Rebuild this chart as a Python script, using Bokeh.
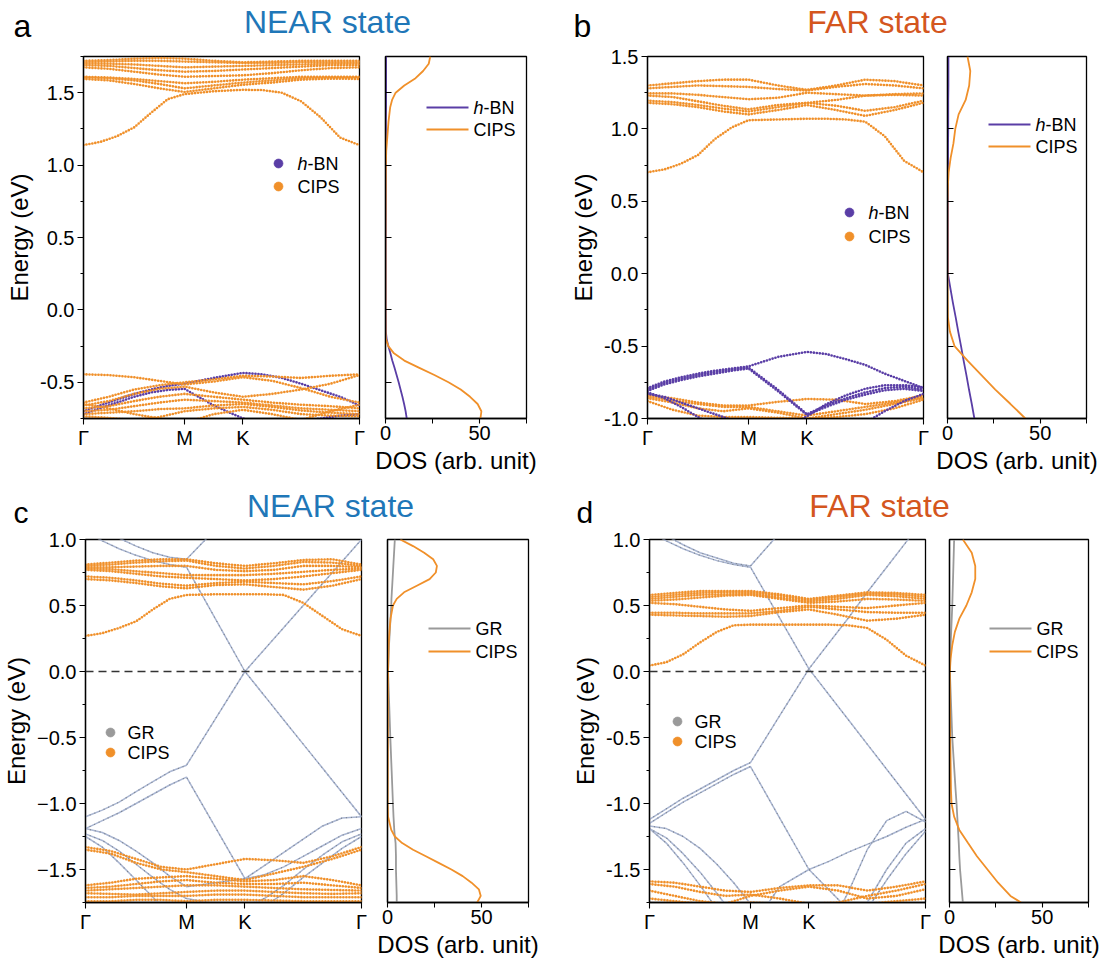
from bokeh.plotting import figure
from bokeh.layouts import column, row
from bokeh.models import FixedTicker, Label, Span, Range1d
from bokeh.embed import file_html
from bokeh.resources import INLINE

FONT = "Liberation Sans"
ORANGE = "#f0902a"
PURPLE = "#5a3ea6"
GRAY = "#9a9a9a"
GR_BAND = "#aab6d2"
BLUE_T = "#1f77b8"
RED_T = "#d4561e"

# k-path nodes (Γ - M - K - Γ)
K_NODES = [0.0, 0.144, 0.289, 0.433, 0.577, 0.744, 0.911, 1.078, 1.244, 1.411, 1.577]
K_FINE = [0.0, 0.096, 0.192, 0.289, 0.385, 0.481, 0.577, 0.744, 0.911,
          1.022, 1.133, 1.244, 1.355, 1.466, 1.577]
K_TICKS = [0.0, 0.577, 0.911, 1.577]
K_LABELS = ["Γ", "M", "K", "Γ"]

# ---------------- panel a (NEAR, h-BN / CIPS) ----------------
A_CIPS_CB0 = [1.138, 1.16, 1.20, 1.26, 1.36, 1.455, 1.49, 1.51, 1.52, 1.518, 1.50, 1.44, 1.33, 1.19, 1.138]
A_CIPS_CB = [
    [1.595, 1.585, 1.56, 1.53, 1.505, 1.53, 1.555, 1.57, 1.59, 1.597, 1.595],
    [1.605, 1.60, 1.585, 1.56, 1.53, 1.55, 1.57, 1.585, 1.60, 1.605, 1.605],
    [1.61, 1.605, 1.595, 1.58, 1.565, 1.575, 1.59, 1.60, 1.61, 1.61, 1.61],
    [1.675, 1.665, 1.645, 1.625, 1.61, 1.615, 1.62, 1.635, 1.655, 1.67, 1.675],
    [1.69, 1.685, 1.67, 1.655, 1.645, 1.65, 1.66, 1.67, 1.68, 1.69, 1.69],
    [1.70, 1.70, 1.695, 1.685, 1.675, 1.68, 1.685, 1.69, 1.695, 1.70, 1.70],
    [1.71, 1.715, 1.72, 1.72, 1.715, 1.71, 1.705, 1.705, 1.71, 1.71, 1.71],
    [1.72, 1.725, 1.735, 1.74, 1.735, 1.72, 1.71, 1.715, 1.72, 1.72, 1.72],
]
A_CIPS_VB = [
    [-0.445, -0.45, -0.465, -0.49, -0.515, -0.495, -0.465, -0.49, -0.54, -0.60, -0.64],
    [-0.64, -0.60, -0.55, -0.52, -0.50, -0.48, -0.455, -0.46, -0.47, -0.455, -0.445],
    [-0.66, -0.63, -0.58, -0.545, -0.53, -0.57, -0.60, -0.58, -0.55, -0.51, -0.45],
    [-0.68, -0.665, -0.63, -0.60, -0.58, -0.60, -0.62, -0.64, -0.655, -0.665, -0.68],
    [-0.70, -0.69, -0.665, -0.64, -0.62, -0.63, -0.64, -0.66, -0.68, -0.69, -0.70],
    [-0.72, -0.71, -0.70, -0.685, -0.68, -0.66, -0.65, -0.67, -0.695, -0.71, -0.72],
    [-0.735, -0.745, -0.76, -0.74, -0.70, -0.68, -0.67, -0.69, -0.72, -0.73, -0.735],
    [-0.65, -0.68, -0.72, -0.75, -0.78, -0.72, -0.69, -0.72, -0.76, -0.70, -0.655],
]
A_HBN_VB = [
    [-0.70, -0.66, -0.62, -0.58, -0.55, -0.525, -0.51, -0.47, -0.435, -0.445, -0.47, -0.51, -0.555, -0.60, -0.66],
    [-0.72, -0.68, -0.64, -0.60, -0.57, -0.553, -0.545, -0.66, -0.75, -0.78, -0.78, -0.77, -0.75, -0.73, -0.72],
]
A_DOS_E = [1.75, 1.70, 1.65, 1.60, 1.55, 1.50, 1.45, 1.40, 1.30, 1.20, 1.10, 1.00, 0.50, 0.00,
           -0.15, -0.20, -0.25, -0.30, -0.35, -0.40, -0.45, -0.50, -0.55, -0.60, -0.65, -0.70, -0.75]
A_DOS_CIPS = [23.8, 23.0, 20.0, 16.0, 10.0, 5.4, 3.5, 2.5, 1.6, 1.0, 0.4, 0.2, 0.0, 0.0,
              0.05, 0.2, 1.5, 4.5, 10.0, 18.0, 26.0, 33.5, 40.0, 45.0, 49.0, 51.0, 50.5]
A_DOS_HBN = [0.3, 0.3, 0.3, 0.3, 0.3, 0.3, 0.3, 0.3, 0.2, 0.2, 0.2, 0.2, 0.1, 0.1,
             0.2, 0.6, 1.5, 2.6, 3.6, 4.8, 5.9, 7.0, 8.0, 9.0, 9.9, 10.7, 11.3]

# ---------------- panel b (FAR, h-BN / CIPS) ----------------
B_CIPS_CB0 = [0.70, 0.72, 0.76, 0.82, 0.93, 1.01, 1.06, 1.065, 1.07, 1.07, 1.065, 1.05, 0.95, 0.78, 0.70]
B_CIPS_CB = [
    [1.18, 1.17, 1.15, 1.12, 1.10, 1.13, 1.165, 1.13, 1.09, 1.13, 1.18],
    [1.195, 1.185, 1.165, 1.14, 1.12, 1.15, 1.18, 1.16, 1.125, 1.15, 1.195],
    [1.23, 1.22, 1.19, 1.16, 1.135, 1.165, 1.18, 1.20, 1.23, 1.235, 1.23],
    [1.245, 1.245, 1.235, 1.22, 1.205, 1.215, 1.25, 1.24, 1.23, 1.24, 1.245],
    [1.28, 1.29, 1.30, 1.295, 1.29, 1.275, 1.265, 1.29, 1.31, 1.30, 1.28],
    [1.30, 1.315, 1.33, 1.34, 1.34, 1.30, 1.27, 1.30, 1.34, 1.33, 1.30],
]
B_CIPS_VB = [
    [-0.84, -0.86, -0.89, -0.91, -0.91, -0.885, -0.865, -0.87, -0.90, -0.88, -0.84],
    [-0.85, -0.875, -0.90, -0.92, -0.92, -0.95, -0.98, -0.95, -0.92, -0.89, -0.85],
    [-0.86, -0.89, -0.93, -0.95, -0.93, -0.96, -1.00, -0.97, -0.94, -0.90, -0.86],
    [-0.88, -0.94, -0.98, -0.99, -0.99, -0.995, -1.00, -0.99, -0.97, -0.93, -0.87],
]
B_HBN_VB = [
    [-0.79, -0.745, -0.715, -0.69, -0.67, -0.655, -0.64, -0.575, -0.54, -0.555, -0.59, -0.63, -0.69, -0.74, -0.79],
    [-0.80, -0.755, -0.725, -0.70, -0.68, -0.662, -0.648, -0.80, -0.97, -0.91, -0.86, -0.82, -0.79, -0.78, -0.80],
    [-0.81, -0.765, -0.735, -0.71, -0.69, -0.67, -0.655, -0.81, -0.975, -0.92, -0.87, -0.835, -0.805, -0.795, -0.81],
    [-0.82, -0.86, -0.92, -0.99, -1.06, -1.12, -1.18, -1.10, -0.985, -0.90, -0.84, -0.795, -0.77, -0.77, -0.785],
    [-0.83, -0.85, -0.89, -0.93, -0.97, -1.01, -1.06, -1.10, -1.10, -1.10, -1.10, -1.03, -0.95, -0.88, -0.83],
]
B_DOS_E = [1.5, 1.4, 1.3, 1.2, 1.1, 1.0, 0.9, 0.8, 0.7, 0.6, 0.5, 0.0,
           -0.2, -0.3, -0.4, -0.5, -0.6, -0.7, -0.8, -0.9, -1.0]
B_DOS_CIPS = [10.8, 12.3, 11.7, 9.8, 6.0, 4.2, 3.2, 1.7, 0.6, 0.2, 0.0, 0.0,
              0.1, 0.2, 1.3, 3.8, 10.8, 18.3, 25.8, 34.0, 42.0]
B_DOS_HBN = [0.5, 0.5, 0.5, 0.4, 0.4, 0.4, 0.3, 0.3, 0.3, 0.2, 0.2, 0.2,
             2.9, 4.4, 5.8, 7.3, 8.7, 10.2, 11.6, 13.1, 14.5]

# ---------------- panel c (NEAR, GR / CIPS) ----------------
C_GR = [
    [1.06, 0.99, 0.93, 0.88, 0.84, 0.81, 0.79, 0.395, 0.0, -0.183, -0.367, -0.55, -0.733, -0.917, -1.10],
    [1.15, 1.08, 1.01, 0.95, 0.90, 0.865, 0.85, 1.08, 1.30, 1.30, 1.35, 1.35, 1.30, 1.20, 1.12],
    [-1.10, -1.05, -0.99, -0.91, -0.835, -0.76, -0.71, -0.355, 0.0, 0.167, 0.333, 0.50, 0.667, 0.833, 1.0],
    [-1.19, -1.13, -1.07, -1.00, -0.93, -0.86, -0.80, -1.185, -1.57, -1.47, -1.37, -1.27, -1.17, -1.11, -1.10],
    [-1.19, -1.22, -1.28, -1.36, -1.45, -1.55, -1.63, -1.60, -1.57, -1.54, -1.48, -1.40, -1.32, -1.24, -1.19],
    [-1.23, -1.28, -1.36, -1.46, -1.56, -1.65, -1.72, -1.76, -1.78, -1.72, -1.62, -1.50, -1.39, -1.29, -1.23],
    [-1.25, -1.33, -1.45, -1.58, -1.71, -1.84, -1.95, -1.90, -1.85, -1.78, -1.68, -1.56, -1.45, -1.34, -1.25],
]
C_CIPS_CB0 = [0.27, 0.29, 0.33, 0.38, 0.47, 0.55, 0.58, 0.585, 0.585, 0.585, 0.58, 0.52, 0.42, 0.32, 0.27]
C_CIPS_CB = [
    [0.70, 0.69, 0.67, 0.645, 0.63, 0.655, 0.66, 0.64, 0.62, 0.65, 0.70],
    [0.72, 0.71, 0.69, 0.665, 0.65, 0.67, 0.68, 0.67, 0.66, 0.685, 0.72],
    [0.77, 0.76, 0.74, 0.72, 0.71, 0.70, 0.69, 0.70, 0.72, 0.745, 0.77],
    [0.78, 0.775, 0.76, 0.745, 0.73, 0.73, 0.73, 0.74, 0.755, 0.77, 0.78],
    [0.79, 0.79, 0.795, 0.80, 0.80, 0.77, 0.76, 0.77, 0.80, 0.80, 0.79],
    [0.80, 0.81, 0.825, 0.835, 0.84, 0.80, 0.78, 0.80, 0.83, 0.825, 0.80],
    [0.81, 0.825, 0.84, 0.85, 0.85, 0.82, 0.80, 0.82, 0.845, 0.85, 0.81],
]
C_CIPS_VB = [
    [-1.33, -1.36, -1.42, -1.48, -1.50, -1.46, -1.42, -1.43, -1.45, -1.40, -1.33],
    [-1.35, -1.38, -1.45, -1.50, -1.52, -1.55, -1.58, -1.53, -1.48, -1.42, -1.35],
    [-1.62, -1.60, -1.57, -1.56, -1.55, -1.57, -1.59, -1.58, -1.55, -1.58, -1.62],
    [-1.64, -1.63, -1.61, -1.59, -1.58, -1.60, -1.61, -1.61, -1.60, -1.62, -1.64],
    [-1.66, -1.65, -1.64, -1.63, -1.62, -1.62, -1.63, -1.64, -1.65, -1.655, -1.66],
    [-1.68, -1.685, -1.69, -1.68, -1.67, -1.66, -1.66, -1.67, -1.68, -1.685, -1.68],
    [-1.71, -1.71, -1.70, -1.70, -1.70, -1.69, -1.69, -1.70, -1.71, -1.71, -1.71],
    [-1.74, -1.74, -1.73, -1.73, -1.74, -1.73, -1.73, -1.735, -1.74, -1.74, -1.74],
]
C_DOS_E = [1.0, 0.95, 0.9, 0.85, 0.8, 0.75, 0.7, 0.65, 0.6, 0.55, 0.5, 0.4, 0.3, 0.2, 0.0,
           -0.5, -1.0, -1.1, -1.2, -1.25, -1.3, -1.35, -1.4, -1.45, -1.5, -1.55, -1.6, -1.65, -1.7, -1.75]
C_DOS_CIPS = [6.8, 13.6, 19.5, 24.3, 26.3, 25.7, 22.4, 15.6, 8.8, 4.9, 2.9, 1.6, 1.0, 0.6, 0.3,
              0.2, 0.1, 0.3, 2.0, 3.9, 7.8, 13.6, 20.4, 27.2, 34.0, 40.0, 44.7, 48.6, 49.6, 47.7]
C_DOS_GR = [3.9, 3.7, 3.5, 3.3, 3.1, 2.9, 2.7, 2.5, 2.3, 2.1, 2.0, 1.6, 1.2, 0.8, 0.3,
            1.5, 2.9, 3.2, 3.6, 3.9, 4.3, 4.4, 4.5, 4.5, 4.5, 4.6, 4.7, 4.8, 4.9, 4.9]

# ---------------- panel d (FAR, GR / CIPS) ----------------
D_GR = [
    [1.06, 0.99, 0.93, 0.88, 0.84, 0.81, 0.79, 0.405, 0.02, -0.17, -0.36, -0.55, -0.74, -0.93, -1.12],
    [1.10, 1.03, 0.96, 0.90, 0.86, 0.82, 0.80, 1.05, 1.30, 1.35, 1.40, 1.40, 1.35, 1.25, 1.15],
    [-1.12, -1.04, -0.96, -0.89, -0.82, -0.75, -0.69, -0.335, 0.02, 0.21, 0.40, 0.60, 0.79, 0.98, 1.17],
    [-1.15, -1.07, -0.99, -0.92, -0.85, -0.78, -0.72, -1.11, -1.50, -1.44, -1.37, -1.31, -1.25, -1.18, -1.12],
    [-1.17, -1.19, -1.25, -1.34, -1.46, -1.60, -1.76, -1.90, -2.00, -1.95, -1.68, -1.35, -1.13, -1.06, -1.14],
    [-1.19, -1.26, -1.38, -1.52, -1.68, -1.85, -1.95, -1.63, -1.50, -1.65, -1.80, -1.75, -1.50, -1.30, -1.19],
    [-1.19, -1.30, -1.45, -1.62, -1.80, -1.95, -2.05, -2.10, -2.10, -2.00, -1.95, -1.80, -1.58, -1.38, -1.21],
]
D_CIPS_CB0 = [0.045, 0.07, 0.13, 0.22, 0.30, 0.35, 0.355, 0.355, 0.355, 0.355, 0.35, 0.33, 0.24, 0.12, 0.045]
D_CIPS_CB = [
    [0.43, 0.425, 0.42, 0.415, 0.42, 0.45, 0.47, 0.43, 0.385, 0.40, 0.43],
    [0.445, 0.445, 0.44, 0.44, 0.44, 0.46, 0.49, 0.47, 0.45, 0.445, 0.445],
    [0.52, 0.51, 0.49, 0.47, 0.46, 0.48, 0.50, 0.49, 0.48, 0.50, 0.52],
    [0.535, 0.545, 0.56, 0.575, 0.58, 0.55, 0.52, 0.53, 0.55, 0.545, 0.535],
    [0.55, 0.565, 0.58, 0.585, 0.59, 0.56, 0.53, 0.55, 0.58, 0.57, 0.55],
    [0.565, 0.58, 0.595, 0.60, 0.60, 0.575, 0.54, 0.565, 0.59, 0.585, 0.565],
    [0.58, 0.595, 0.61, 0.61, 0.61, 0.585, 0.55, 0.575, 0.60, 0.595, 0.58],
]
D_CIPS_VB = [
    [-1.59, -1.60, -1.63, -1.66, -1.67, -1.64, -1.62, -1.62, -1.66, -1.63, -1.59],
    [-1.61, -1.63, -1.67, -1.70, -1.69, -1.72, -1.76, -1.75, -1.70, -1.66, -1.61],
    [-1.66, -1.70, -1.74, -1.76, -1.70, -1.66, -1.63, -1.66, -1.72, -1.70, -1.65],
    [-1.72, -1.74, -1.76, -1.78, -1.75, -1.76, -1.78, -1.78, -1.76, -1.74, -1.72],
]
D_DOS_E = [1.0, 0.9, 0.8, 0.7, 0.6, 0.5, 0.4, 0.3, 0.2, 0.1, 0.0,
           -0.5, -0.9, -1.0, -1.1, -1.2, -1.3, -1.4, -1.5, -1.6, -1.7, -1.75]
D_DOS_CIPS = [7.2, 12.0, 13.9, 13.9, 12.0, 9.1, 5.3, 2.9, 1.5, 0.6, 0.2,
              0.4, 0.8, 1.1, 2.5, 5.3, 10.0, 14.8, 20.5, 26.2, 32.9, 38.6]
D_DOS_GR = [2.5, 2.3, 2.1, 1.9, 1.7, 1.5, 1.2, 0.9, 0.6, 0.4, 0.2,
            1.5, 3.3, 3.8, 4.2, 4.6, 5.0, 5.3, 5.7, 6.3, 6.9, 7.2]

# axis tick values
A_YTICKS = [-0.5, 0.0, 0.5, 1.0, 1.5]
B_YTICKS = [-1.0, -0.5, 0.0, 0.5, 1.0, 1.5]
CD_YTICKS = [-1.5, -1.0, -0.5, 0.0, 0.5, 1.0]
DOS_XTICKS = [0, 50]

# --------------------------------------------------------------
TICK_PX = "20px"
LABEL_PX = "24px"
LEG_PX = "18px"


def fmt(v, minus="-"):
    s = "%.1f" % v
    return s.replace("-", minus)


def style_common(p):
    p.xgrid.visible = False
    p.ygrid.visible = False
    p.outline_line_color = "black"
    p.outline_line_width = 1.3
    p.outline_line_alpha = 1.0
    p.background_fill_color = "white"
    p.border_fill_color = "white"
    for ax in (p.xaxis[0], p.yaxis[0]):
        ax.axis_line_color = "black"
        ax.axis_line_width = 1.3
        ax.major_tick_line_color = "black"
        ax.minor_tick_line_color = "black"
        ax.major_tick_line_width = 1.1
        ax.minor_tick_line_width = 1.0
        ax.major_label_text_font = FONT
        ax.major_label_text_font_size = TICK_PX
        ax.major_label_text_color = "black"
        ax.axis_label_text_font = FONT
        ax.axis_label_text_font_size = LABEL_PX
        ax.axis_label_text_font_style = "normal"
        ax.axis_label_text_color = "black"


def band_fig(yr, yticks, yminor, fh, top, bottom, left, minus="-"):
    p = figure(frame_width=276, frame_height=fh, x_range=Range1d(0, K_TICKS[-1]),
               y_range=Range1d(*yr), output_backend="svg", toolbar_location=None,
               title=None,
               min_border_left=left, min_border_right=8, min_border_top=top,
               min_border_bottom=bottom)
    style_common(p)
    xa, ya = p.xaxis[0], p.yaxis[0]
    xa.ticker = FixedTicker(ticks=K_TICKS)
    xa.major_label_overrides = {k: l for k, l in zip(K_TICKS, K_LABELS)}
    xa.major_tick_out = 6
    xa.major_tick_in = 0
    xa.minor_tick_out = 0
    xa.major_label_standoff = 2
    ya.ticker = FixedTicker(ticks=yticks, minor_ticks=yminor)
    ya.major_label_overrides = {t: fmt(t, minus) for t in yticks}
    ya.major_tick_out = 6
    ya.major_tick_in = 0
    ya.minor_tick_out = 3
    ya.minor_tick_in = 0
    ya.major_label_standoff = 3
    ya.axis_label = "Energy (eV)"
    ya.axis_label_standoff = 4
    return p


def dos_fig(yr, yticks, fw, fh, top, bottom, left, right):
    p = figure(frame_width=fw, frame_height=fh, x_range=Range1d(0, 75),
               y_range=Range1d(*yr), output_backend="svg", toolbar_location=None,
               title=None,
               min_border_left=left, min_border_right=right, min_border_top=top,
               min_border_bottom=bottom)
    style_common(p)
    xa, ya = p.xaxis[0], p.yaxis[0]
    xa.ticker = FixedTicker(ticks=DOS_XTICKS, minor_ticks=[25, 75])
    xa.major_tick_out = 5
    xa.major_tick_in = 0
    xa.minor_tick_out = 5
    xa.minor_tick_in = 0
    xa.major_label_standoff = 2
    xa.axis_label = "DOS (arb. unit)"
    xa.axis_label_standoff = 4
    ya.ticker = FixedTicker(ticks=yticks)
    ya.major_label_overrides = {t: "" for t in yticks}
    ya.major_tick_in = 6
    ya.major_tick_out = 0
    ya.minor_tick_in = 0
    ya.minor_tick_out = 0
    return p


def draw_dotted(p, bands, color, knodes=K_NODES):
    xs = [knodes] * len(bands)
    p.multi_line(xs, bands, line_color=color, line_width=1.0, line_alpha=0.35)
    p.multi_line(xs, bands, line_color=color, line_width=2.6, line_dash="0 3",
                 line_cap="round")


def draw_gr(p, bands, knodes=K_FINE):
    xs = [knodes] * len(bands)
    p.multi_line(xs, bands, line_color=GR_BAND, line_width=1.5)
    p.multi_line(xs, bands, line_color="#7d8590", line_width=1.3, line_dash="0 5",
                 line_cap="round")


class Frame:
    def __init__(self, x0, y0, w, h, xr, yr):
        self.x0, self.y0, self.w, self.h, self.xr, self.yr = x0, y0, w, h, xr, yr

    def x(self, px):
        return self.xr[0] + (px - self.x0) / self.w * (self.xr[1] - self.xr[0])

    def y(self, py):
        return self.yr[1] - (py - self.y0) / self.h * (self.yr[1] - self.yr[0])


def add_text(p, fr, px, py, text, italic=False, xoff=0):
    p.add_layout(Label(x=fr.x(px), y=fr.y(py), text=text, x_offset=xoff,
                       text_font=FONT, text_font_size=LEG_PX, text_baseline="middle",
                       text_align="left", text_color="black",
                       text_font_style="italic" if italic else "normal"))


def name_text(p, fr, px, py, name):
    if name == "h-BN":
        add_text(p, fr, px, py, "h", italic=True)
        add_text(p, fr, px, py, "-BN", xoff=10)
    else:
        add_text(p, fr, px, py, name)


def marker_legend(p, fr, mx, tx, ys, names, colors):
    for yy, nm, c in zip(ys, names, colors):
        p.scatter([fr.x(mx)], [fr.y(yy)], size=9, fill_color=c, line_color=c, line_alpha=0.6)
        name_text(p, fr, tx, yy, nm)


def line_legend(p, fr, lx0, lx1, tx, ys, names, colors):
    for yy, nm, c in zip(ys, names, colors):
        p.line([fr.x(lx0), fr.x(lx1)], [fr.y(yy), fr.y(yy)], line_color=c, line_width=1.8)
        name_text(p, fr, tx, yy, nm)


# ---------------- geometry ----------------
HEAD1, TOP1, BOT1, FH1 = 45, 11, 62, 362
HEAD2, TOP2, BOT2, FH2 = 50, 9, 64, 363
Y1 = HEAD1 + TOP1
Y2 = 480 + HEAD2 + TOP2
KX = (0, K_TICKS[-1])

# ---------------- top row ----------------
pa = band_fig((-0.75, 1.75), A_YTICKS, [-0.75, -0.25, 0.25, 0.75, 1.25, 1.75], FH1, TOP1, BOT1, 83)
draw_dotted(pa, [A_CIPS_CB0], ORANGE, K_FINE)
draw_dotted(pa, A_CIPS_CB, ORANGE)
draw_dotted(pa, A_HBN_VB, PURPLE, K_FINE)
draw_dotted(pa, A_CIPS_VB, ORANGE)
fa = Frame(83, Y1, 276, FH1, KX, (-0.75, 1.75))
marker_legend(pa, fa, 278, 297, [163, 186], ["h-BN", "CIPS"], [PURPLE, ORANGE])

da = dos_fig((-0.75, 1.75), A_YTICKS, 141, FH1, TOP1, BOT1, 18, 34)
da.line(A_DOS_HBN, A_DOS_E, line_color=PURPLE, line_width=1.8)
da.line(A_DOS_CIPS, A_DOS_E, line_color=ORANGE, line_width=1.8)
fda = Frame(385, Y1, 141, FH1, (0, 75), (-0.75, 1.75))
line_legend(da, fda, 426, 468, 473, [107, 129], ["h-BN", "CIPS"], [PURPLE, ORANGE])

pb = band_fig((-1.0, 1.5), B_YTICKS, [-0.75, -0.25, 0.25, 0.75, 1.25], FH1, TOP1, BOT1, 87)
draw_dotted(pb, [B_CIPS_CB0], ORANGE, K_FINE)
draw_dotted(pb, B_CIPS_CB, ORANGE)
draw_dotted(pb, B_CIPS_VB, ORANGE)
draw_dotted(pb, B_HBN_VB, PURPLE, K_FINE)
fb = Frame(647, Y1, 276, FH1, KX, (-1.0, 1.5))
marker_legend(pb, fb, 849, 868, [212, 236], ["h-BN", "CIPS"], [PURPLE, ORANGE])

db = dos_fig((-1.0, 1.5), B_YTICKS, 139, FH1, TOP1, BOT1, 16, 24)
db.line(B_DOS_HBN, B_DOS_E, line_color=PURPLE, line_width=1.8)
db.line(B_DOS_CIPS, B_DOS_E, line_color=ORANGE, line_width=1.8)
fdb = Frame(947, Y1, 139, FH1, (0, 75), (-1.0, 1.5))
line_legend(db, fdb, 988, 1030, 1035, [124, 146], ["h-BN", "CIPS"], [PURPLE, ORANGE])

# ---------------- bottom row ----------------
CD_MINOR = [-1.75, -1.25, -0.75, -0.25, 0.25, 0.75]
pc = band_fig((-1.75, 1.0), CD_YTICKS, CD_MINOR, FH2, TOP2, BOT2, 83, minus="\u2212")
draw_gr(pc, C_GR)
draw_dotted(pc, [C_CIPS_CB0], ORANGE, K_FINE)
draw_dotted(pc, C_CIPS_CB, ORANGE)
draw_dotted(pc, C_CIPS_VB, ORANGE)
pc.add_layout(Span(location=0, dimension="width", line_color="#333333", line_width=1.3,
                   line_dash="8 5"))
fc = Frame(83, Y2, 276, FH2, KX, (-1.75, 1.0))
marker_legend(pc, fc, 108, 125, [732, 752], ["GR", "CIPS"], [GRAY, ORANGE])

dc = dos_fig((-1.75, 1.0), CD_YTICKS, 141, FH2, TOP2, BOT2, 18, 34)
dc.line(C_DOS_GR, C_DOS_E, line_color=GRAY, line_width=1.8)
dc.line(C_DOS_CIPS, C_DOS_E, line_color=ORANGE, line_width=1.8)
fdc = Frame(385, Y2, 141, FH2, (0, 75), (-1.75, 1.0))
line_legend(dc, fdc, 426, 468, 473, [628, 651], ["GR", "CIPS"], [GRAY, ORANGE])

pd_ = band_fig((-1.75, 1.0), CD_YTICKS, CD_MINOR, FH2, TOP2, BOT2, 87)
draw_gr(pd_, D_GR)
draw_dotted(pd_, [D_CIPS_CB0], ORANGE, K_FINE)
draw_dotted(pd_, D_CIPS_CB, ORANGE)
draw_dotted(pd_, D_CIPS_VB, ORANGE)
pd_.add_layout(Span(location=0, dimension="width", line_color="#333333", line_width=1.3,
                    line_dash="8 5"))
fd = Frame(647, Y2, 276, FH2, KX, (-1.75, 1.0))
marker_legend(pd_, fd, 675, 692, [721, 741], ["GR", "CIPS"], [GRAY, ORANGE])

dd = dos_fig((-1.75, 1.0), CD_YTICKS, 139, FH2, TOP2, BOT2, 16, 24)
dd.line(D_DOS_GR, D_DOS_E, line_color=GRAY, line_width=1.8)
dd.line(D_DOS_CIPS, D_DOS_E, line_color=ORANGE, line_width=1.8)
fdd = Frame(947, Y2, 139, FH2, (0, 75), (-1.75, 1.0))
line_legend(dd, fdd, 987, 1029, 1034, [628, 651], ["GR", "CIPS"], [GRAY, ORANGE])


# ---------------- headers ----------------
def header(h, items):
    p = figure(width=1110, height=h, x_range=Range1d(0, 1110), y_range=Range1d(0, h),
               x_axis_type=None, y_axis_type=None, output_backend="svg", title=None,
               toolbar_location=None, min_border=0, min_border_left=0, min_border_right=0,
               min_border_top=0, min_border_bottom=0, outline_line_color=None)
    p.xgrid.visible = False
    p.ygrid.visible = False
    for (x, base, t, size, color, align) in items:
        # place the vertical middle of the em box (0.35 em above the baseline)
        mid = base - 0.35 * size
        p.add_layout(Label(x=x, y=h - mid, text=t, text_font=FONT,
                           text_font_size="%dpx" % size, text_color=color,
                           text_align=align, text_baseline="middle"))
    return p


h1 = header(HEAD1, [(13, 37, "a", 32, "black", "left"),
                    (327, 33, "NEAR state", 32, BLUE_T, "center"),
                    (573, 37, "b", 32, "black", "left"),
                    (877, 33, "FAR state", 32, RED_T, "center")])
h2 = header(HEAD2, [(13, 42, "c", 30, "black", "left"),
                    (330, 37, "NEAR state", 32, BLUE_T, "center"),
                    (576, 42, "d", 30, "black", "left"),
                    (879, 37, "FAR state", 32, RED_T, "center")])

layout = column(h1, row(pa, da, pb, db), h2, row(pc, dc, pd_, dd))
open("out.html", "w").write(file_html(layout, INLINE))
